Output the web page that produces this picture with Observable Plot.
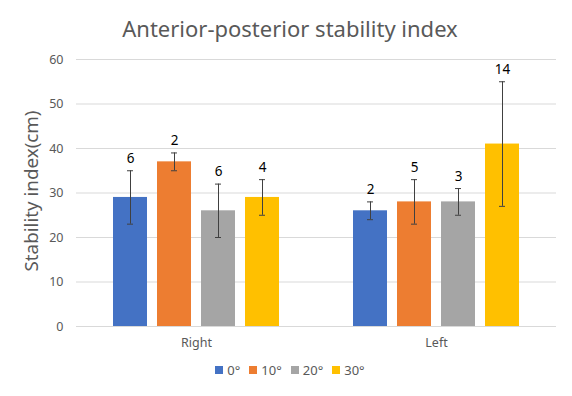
<!DOCTYPE html>
<html>
<head>
<meta charset="utf-8">
<script src="https://cdn.jsdelivr.net/npm/d3@7"></script>
<script src="https://cdn.jsdelivr.net/npm/@observablehq/plot@0.6"></script>
<style>
  body { margin: 0; background: #fff; font-family: "Noto Sans", sans-serif; }
  #wrap { width: 572px; height: 396px; position: relative; overflow: hidden; }
  #title { height: 46px; box-sizing: border-box; padding-top: 17px; text-align: center; font-size: 22px; line-height: 1; color: #595959; padding-left: 8px; }
  #legend { display: flex; justify-content: center; align-items: center; gap: 9px; font-size: 13px; color: #595959; margin-top: 5px; padding-left: 8px; }
  #legend span.item { display: flex; align-items: center; gap: 4px; }
  #legend span.sw { width: 8px; height: 8px; display: inline-block; }
</style>
</head>
<body>
<div id="wrap">
  <div id="title">Anterior-posterior stability index</div>
  <div id="chart"></div>
  <div id="legend"></div>
</div>
<script>
const groups = ["Right", "Left"];
const angles = ["0°", "10°", "20°", "30°"];
const rightMeans = [29, 37, 26, 29];
const rightSD = [6, 2, 6, 4];
const leftMeans = [26, 28, 28, 41];
const leftSD = [2, 5, 3, 14];
const colors = ["#4472C4", "#ED7D31", "#A5A5A5", "#FFC000"];
const yTicks = [0, 10, 20, 30, 40, 50, 60];

const data = [];
groups.forEach((g, gi) => {
  const m = gi === 0 ? rightMeans : leftMeans;
  const s = gi === 0 ? rightSD : leftSD;
  angles.forEach((a, i) => data.push({group: g, angle: a, mean: m[i], sd: s[i]}));
});

const chart = Plot.plot({
  width: 572,
  height: 310,
  marginTop: 13,
  marginBottom: 30,
  marginLeft: 76,
  marginRight: 16,
  style: {fontFamily: "Noto Sans, sans-serif", background: "#fff"},
  fx: {domain: groups, paddingInner: 0.3, paddingOuter: 0.15, label: null},
  x: {domain: angles, paddingInner: 0.22, paddingOuter: 0, axis: null},
  y: {domain: [0, 60], ticks: yTicks, axis: null},
  color: {domain: angles, range: colors},
  marks: [
    Plot.gridY(yTicks, {stroke: "#d9d9d9", strokeOpacity: 1, strokeWidth: 1, insetLeft: -36, insetRight: -36}),
    Plot.axisY(yTicks, {tickSize: 0, tickPadding: 13, dx: -36, fontSize: 12.5, color: "#595959", label: null}),
    Plot.text(["Stability index(cm)"], {frameAnchor: "left", rotate: -90, textAnchor: "middle", dx: -81, dy: -2, fontSize: 18.8, fill: "#595959", facet: "super"}),
    Plot.axisFx({anchor: "bottom", tickSize: 0, tickPadding: 12, fontSize: 12.5, color: "#595959", label: null}),
    Plot.barY(data, {fx: "group", x: "angle", y: "mean", fill: "angle"}),
    Plot.ruleX(data, {fx: "group", x: "angle", y1: d => d.mean - d.sd, y2: d => d.mean + d.sd, stroke: "#404040", strokeWidth: 1}),
    Plot.tickY(data, {fx: "group", x: "angle", y: d => d.mean - d.sd, stroke: "#404040", strokeWidth: 1, insetLeft: 14, insetRight: 14}),
    Plot.tickY(data, {fx: "group", x: "angle", y: d => d.mean + d.sd, stroke: "#404040", strokeWidth: 1, insetLeft: 14, insetRight: 14}),
    Plot.text(data, {fx: "group", x: "angle", y: d => d.mean + d.sd, text: d => String(d.sd), dy: -12, fontSize: 13.5, fill: "#000"})
  ]
});
document.getElementById("chart").appendChild(chart);

const legend = document.getElementById("legend");
angles.forEach((a, i) => {
  const item = document.createElement("span");
  item.className = "item";
  const sw = document.createElement("span");
  sw.className = "sw";
  sw.style.background = colors[i];
  item.appendChild(sw);
  item.appendChild(document.createTextNode(a));
  legend.appendChild(item);
});
</script>
</body>
</html>
